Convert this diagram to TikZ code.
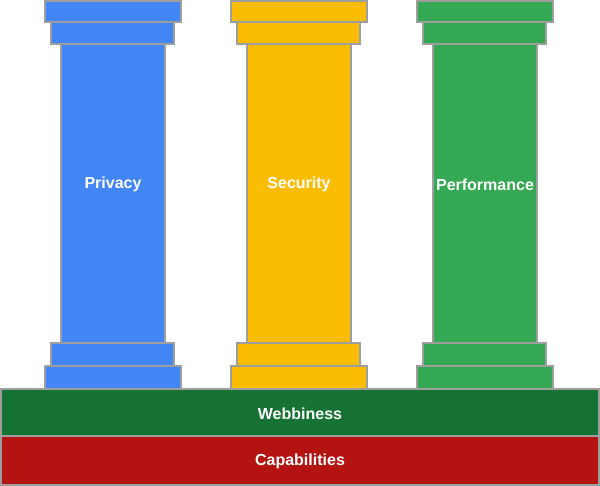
\documentclass[tikz,border=0pt]{standalone}
\usepackage{fontspec}
\setmainfont{Liberation Sans}
\definecolor{gblue}{HTML}{4285F4}
\definecolor{gyellow}{HTML}{FBBC04}
\definecolor{ggreen}{HTML}{34A853}
\definecolor{dgreen}{HTML}{177334}
\definecolor{dred}{HTML}{B31412}
\definecolor{edge}{HTML}{9E9E9E}
\tikzset{
  part/.style={draw=edge, line width=1.2pt},
  lbl/.style={text=white, font=\fontsize{16}{18}\selectfont\bfseries, inner sep=0pt},
}
\newcommand{\pillar}[2]{% center x, colour
  \draw[part, fill=#2] ({#1-68},1) rectangle ({#1+68},22);
  \draw[part, fill=#2] ({#1-62},22) rectangle ({#1+61},44);
  \draw[part, fill=#2] ({#1-52},44) rectangle ({#1+52},343);
  \draw[part, fill=#2] ({#1-62},343) rectangle ({#1+61},366);
  \draw[part, fill=#2] ({#1-68},366) rectangle ({#1+68},389);
}
\begin{document}
\begin{tikzpicture}[x=1pt,y=-1pt]
\useasboundingbox (0,0) rectangle (600,486);
\pillar{113}{gblue}
\pillar{299}{gyellow}
\pillar{485}{ggreen}
\node[lbl] (privacy) at (113,184.5) {Privacy};
\node[lbl] (security) at (299,184.5) {Security};
\node[lbl] (performance) at (485,184.5) {Performance};
\draw[part, fill=dgreen] (1,389) rectangle (599,436);
\draw[part, fill=dred] (1,436) rectangle (599,485);
\node[lbl] (webbiness) at (300,413.5) {Webbiness};
\node[lbl] (capabilities) at (300,461.5) {Capabilities};
\end{tikzpicture}
\end{document}
